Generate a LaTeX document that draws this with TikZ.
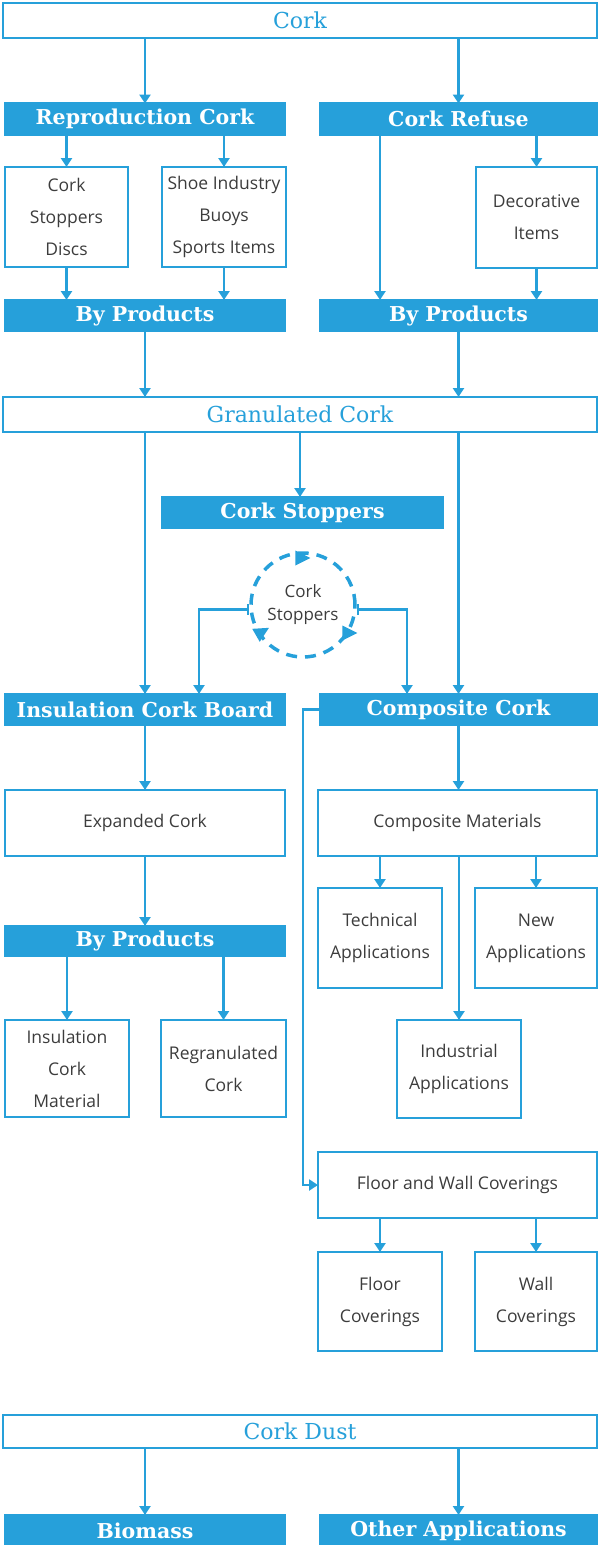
\documentclass[tikz,border=0pt]{standalone}
\usepackage{fontspec}
\setmainfont{Open Sans}
\newfontfamily\slabfont{DejaVu Serif}
\usetikzlibrary{arrows.meta,shapes.geometric}
\definecolor{corkblue}{RGB}{38,160,218}
\definecolor{corktext}{RGB}{60,60,60}
\tikzset{
  base/.style={draw=corkblue, line width=2.8pt, inner sep=0pt, outer sep=0pt, align=center},
  head/.style={base, fill=corkblue, text=white, font=\slabfont\bfseries\fontsize{20.5}{24}\selectfont, minimum height=31pt},
  titlebox/.style={base, fill=white, text=corkblue, font=\slabfont\fontsize{22}{26}\selectfont, minimum width=594pt, minimum height=35pt},
  item/.style={base, text=corktext, font=\fontsize{17.5}{32}\selectfont},
  link/.style={draw=corkblue, line width=2.8pt, -{Triangle[width=11pt,length=9pt]}},
  cycletip/.style={isosceles triangle, isosceles triangle apex angle=60, isosceles triangle stretches,
                   fill=corkblue, inner sep=0pt, minimum width=15pt, minimum height=15pt},
}
\begin{document}
\begin{tikzpicture}[x=1pt, y=-1pt]
    \useasboundingbox (0,0) rectangle (600,1545);
    \node[titlebox] (cork) at (300,20.5) {Cork};
    \node[head, minimum width=280pt] (repro) at (145,119) {Reproduction Cork};
    \node[head, minimum width=277pt] (refuse) at (458.5,119) {Cork Refuse};
    \node[item, minimum width=123pt, minimum height=100pt] (discs) at (66.5,217) {Cork\\Stoppers\\Discs};
    \node[item, minimum width=124pt, minimum height=100pt] (shoe) at (224,217) {Shoe Industry\\Buoys\\Sports Items};
    \node[item, minimum width=121pt, minimum height=101pt] (deco) at (536.5,217.5) {Decorative\\Items};
    \node[head, minimum width=280pt] (byrepro) at (145,315.5) {By Products};
    \node[head, minimum width=277pt] (byrefuse) at (458.5,315.5) {By Products};
    \node[titlebox] (gran) at (300,414.5) {Granulated Cork};
    \node[head, minimum width=281pt] (stopper) at (302.5,512.5) {Cork Stoppers};
    \node[circle, draw=corkblue, line width=3.5pt, dash pattern=on 11pt off 8pt, minimum size=104pt, inner sep=0pt,
          text=corktext, font=\fontsize{17}{23}\selectfont, align=center] (cycle) at (303,605) {Cork\\Stoppers};
    \foreach \x/\y/\r [count=\i] in {300/558/0, 260/633/30, 347/633/0}
        \node[cycletip, rotate=\r] (tip\i) at (\x,\y) {};
    \node[head, minimum width=280pt] (icb) at (145,709.5) {Insulation Cork Board};
    \node[head, minimum width=277pt] (comp) at (458.5,709.5) {Composite Cork};
    \node[item, minimum width=280pt, minimum height=66pt] (exp) at (145,823) {Expanded Cork};
    \node[item, minimum width=279pt, minimum height=66pt] (compmat) at (457.5,823) {Composite Materials};
    \node[head, minimum width=280pt, minimum height=30pt] (byins) at (145,941) {By Products};
    \node[item, minimum width=124pt, minimum height=97pt] (insmat) at (67,1068.5) {Insulation\\Cork\\Material};
    \node[item, minimum width=125pt, minimum height=97pt] (regran) at (223.5,1068.5) {Regranulated\\Cork};
    \node[item, minimum width=124pt, minimum height=100pt] (tech) at (380,938) {Technical\\Applications};
    \node[item, minimum width=122pt, minimum height=100pt] (newapp) at (536,938) {New\\Applications};
    \node[item, minimum width=124pt, minimum height=98pt] (indus) at (459,1069) {Industrial\\Applications};
    \node[item, minimum width=279pt, minimum height=66pt] (fwc) at (457.5,1185) {Floor and Wall Coverings};
    \node[item, minimum width=124pt, minimum height=99pt] (floor) at (380,1301.5) {Floor\\Coverings};
    \node[item, minimum width=122pt, minimum height=99pt] (wall) at (536,1301.5) {Wall\\Coverings};
    \node[titlebox, minimum height=33pt] (dust) at (300,1431.5) {Cork Dust};
    \node[head, minimum width=280pt, minimum height=32pt] (bio) at (145,1531) {Biomass};
    \node[head, minimum width=277pt, minimum height=32pt] (other) at (458.5,1531) {Other Applications};
    \draw[link] (cork.south -| repro) -- (repro.north);
    \draw[link] (cork.south -| refuse) -- (refuse.north);
    \draw[link] (repro.south -| discs) -- (discs.north);
    \draw[link] (repro.south -| shoe) -- (shoe.north);
    \draw[link] ([xshift=-78.5pt]refuse.south) -- ([xshift=-78.5pt]byrefuse.north);
    \draw[link] (refuse.south -| deco) -- (deco.north);
    \draw[link] (discs.south) -- (byrepro.north -| discs);
    \draw[link] (shoe.south) -- (byrepro.north -| shoe);
    \draw[link] (deco.south) -- (byrefuse.north -| deco);
    \draw[link] (byrepro.south) -- (gran.north -| byrepro);
    \draw[link] (byrefuse.south) -- (gran.north -| byrefuse);
    \draw[link] (gran.south -| icb) -- (icb.north);
    \draw[link] (gran.south) -- (stopper.north -| gran);
    \draw[link] (gran.south -| comp) -- (comp.north);
    \draw[link, {Bar[width=11pt]}-{Triangle[width=11pt,length=9pt]}] (cycle.185) -| ([xshift=54pt]icb.north);
    \draw[link, {Bar[width=11pt]}-{Triangle[width=11pt,length=9pt]}] (cycle.-5) -| ([xshift=-51.5pt]comp.north);
    \draw[link] (icb.south) -- (exp.north);
    \draw[link] (exp.south) -- (byins.north);
    \draw[link] (byins.south -| insmat) -- (insmat.north);
    \draw[link] (byins.south -| regran) -- (regran.north);
    \draw[link] (comp.south) -- (compmat.north -| comp);
    \draw[link] (compmat.south -| tech) -- (tech.north);
    \draw[link] (compmat.south -| newapp) -- (newapp.north);
    \draw[link] (compmat.south -| indus) -- (indus.north);
    \draw[link] (comp.west) -- ++(-17,0) |- (fwc.west);
    \draw[link] (fwc.south -| floor) -- (floor.north);
    \draw[link] (fwc.south -| wall) -- (wall.north);
    \draw[link] (dust.south -| bio) -- (bio.north);
    \draw[link] (dust.south -| other) -- (other.north);
\end{tikzpicture}
\end{document}
